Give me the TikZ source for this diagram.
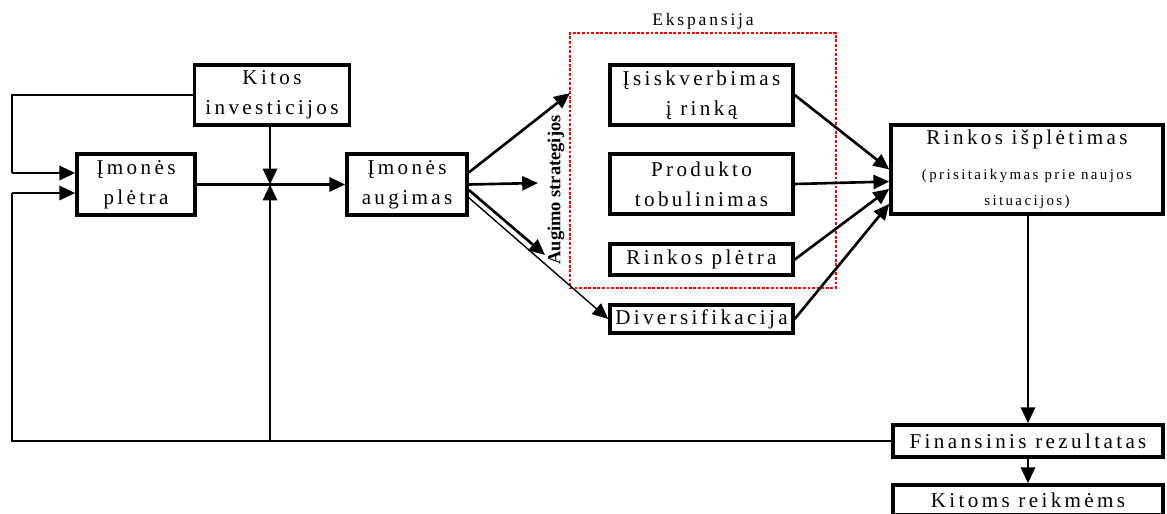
\documentclass[tikz,border=0pt]{standalone}
\usepackage{fontspec}
\setmainfont{Liberation Serif}[LetterSpace=16]
\newfontfamily\stratfont{Liberation Serif}
\usetikzlibrary{arrows.meta}

\begin{document}
\begin{tikzpicture}[x=0.02cm,y=-0.02cm,
        box/.style={draw,line width=2pt,inner sep=0pt,align=center,font=\fontsize{12}{17}\selectfont},
        thk/.style={line width=1.5pt},
        thn/.style={line width=0.8pt},
        >={Triangle[length=9pt,width=8pt]}]
    \useasboundingbox (0,0) rectangle (1167,514);

    \node[box,minimum width=3.1cm,minimum height=1.2cm] (kitos) at (272,95) {Kitos\\investicijos};
    \node[box,minimum width=2.36cm,minimum height=1.22cm] (plet) at (136,184.5) {Įmonės\\plėtra};
    \node[box,minimum width=2.4cm,minimum height=1.22cm] (aug) at (407,184.5) {Įmonės\\augimas};

    \node[draw=red,densely dotted,line width=1.6pt,minimum width=5.32cm,minimum height=5.1cm] (eksp) at (703,160.5) {};
    \node[above,inner sep=1pt,font=\fontsize{10}{12}\selectfont] (ekspl) at (eksp.north) {Ekspansija};
    \node[rotate=90,font=\stratfont\bfseries\fontsize{10.5}{12}\selectfont] (strat) at (556,190) {Augimo strategijos};

    \node[box,minimum width=3.66cm,minimum height=1.2cm] (isisk) at (701.5,95) {Įsiskverbimas\\į rinką};
    \node[box,minimum width=3.66cm,minimum height=1.2cm] (prod) at (701.5,184) {Produkto\\tobulinimas};
    \node[box,minimum width=3.66cm,minimum height=0.62cm] (rplet) at (701.5,259.5) {Rinkos plėtra};
    \node[box,minimum width=3.66cm,minimum height=0.56cm] (divers) at (701.5,319) {Diversifikacija};

    \node[box,minimum width=5.44cm,minimum height=1.78cm] (risp) at (1027,169.5)
        {Rinkos išplėtimas\\[3pt]{\fontsize{8.5}{16}\selectfont (prisitaikymas prie naujos}\\[-2pt]{\fontsize{8.5}{16}\selectfont situacijos)}};
    \node[box,minimum width=5.4cm,minimum height=0.64cm] (fin) at (1028,441) {Finansinis rezultatas};
    \node[box,minimum width=5.4cm,minimum height=0.6cm] (kitoms) at (1028,500) {Kitoms reikmėms};

    % investicijos ir grizimas
    \coordinate (jn) at (270,184.5);
    \coordinate (lt) at (12,173);
    \coordinate (lb) at (12,193);
    \draw[thk,->] (plet.east) -- (aug.west);
    \draw[thk,->] (kitos.south -| jn) -- (jn);
    \draw[thn] (kitos.west) -| (lt);
    \draw[thk,->] (lt) -- (lt -| plet.west);
    \draw[thn] (fin.west) -| (lb);
    \draw[thk,->] (lb) -- (lb -| plet.west);
    \draw[thk,->] (jn |- fin.west) -- (jn);

    % augimo strategijos
    \coordinate (s1) at (570,93);
    \coordinate (s2) at (538,183);
    \coordinate (s3) at (545,255);
    \draw[thk,->] (aug.11) -- (s1);
    \draw[thk,->] (aug.east) -- (s2);
    \draw[thk,->] (aug.-5) -- (s3);
    \draw[thn,->] (aug.-12) -- (divers.west);

    \draw[thk,->] (isisk.east) -- (risp.west);
    \draw[thk,->] (prod.east) -- (risp.185.7);
    \draw[thk,->] (rplet.east) -- (risp.188.6);
    \draw[thk,->] (divers.east) -- (risp.194.2);

    \draw[thk,->] (risp.south -| fin.north) -- (fin.north);
    \draw[thk,->] (fin.south) -- (kitoms.north);
\end{tikzpicture}
\end{document}
